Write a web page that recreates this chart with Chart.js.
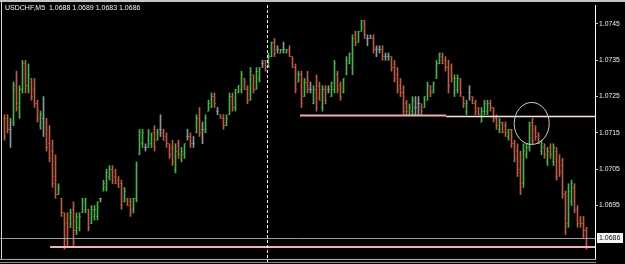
<!DOCTYPE html>
<html><head><meta charset="utf-8">
<script src="https://cdn.jsdelivr.net/npm/chart.js@4/dist/chart.umd.min.js"></script>
<style>html,body{margin:0;padding:0;background:#000;overflow:hidden}#wrap{width:625px;height:264px;position:relative}canvas{display:block}</style>
</head><body><div id="wrap"><canvas id="c" width="625" height="264"></canvas></div>
<script>
const titleText = 'USDCHF,M5  1.0688 1.0689 1.0683 1.0686';
const opens = [
1.0719,1.0719,1.0716,1.0718,1.0728,1.0722,1.0727,1.0734,1.0728,1.0730,
1.0727,1.0723,1.0717,1.0719,1.0718,1.0712,1.0710,1.0703,1.0698,1.0697,
1.0693,1.0690,1.0689,1.0694,1.0688,1.0689,1.0693,1.0694,1.0694,1.0690,
1.0692,1.0692,1.0697,1.0699,1.0700,1.0703,1.0705,1.0703,1.0702,1.0701,
1.0696,1.0697,1.0696,1.0694,1.0697,1.0709,1.0712,1.0711,1.0711,1.0712,
1.0716,1.0713,1.0716,1.0715,1.0714,1.0712,1.0711,1.0705,1.0712,1.0708,
1.0709,1.0714,1.0714,1.0712,1.0715,1.0719,1.0716,1.0716,1.0721,1.0722,
1.0725,1.0721,1.0720,1.0719,1.0717,1.0720,1.0725,1.0722,1.0726,1.0727,
1.0730,1.0727,1.0724,1.0731,1.0727,1.0730,1.0734,1.0735,1.0733,1.0736,
1.0740,1.0738,1.0737,1.0738,1.0737,1.0738,1.0736,1.0733,1.0729,1.0731,
1.0725,1.0729,1.0727,1.0723,1.0727,1.0728,1.0722,1.0727,1.0727,1.0725,
1.0727,1.0731,1.0728,1.0726,1.0731,1.0734,1.0733,1.0742,1.0740,1.0743,
1.0746,1.0741,1.0741,1.0741,1.0738,1.0738,1.0738,1.0736,1.0736,1.0736,
1.0733,1.0731,1.0728,1.0726,1.0723,1.0720,1.0721,1.0722,1.0723,1.0723,
1.0722,1.0724,1.0728,1.0726,1.0730,1.0734,1.0736,1.0735,1.0733,1.0733,
1.0726,1.0727,1.0730,1.0725,1.0721,1.0726,1.0725,1.0723,1.0722,1.0718,
1.0721,1.0721,1.0723,1.0722,1.0719,1.0716,1.0718,1.0717,1.0714,1.0716,
1.0712,1.0710,1.0705,1.0701,1.0709,1.0711,1.0718,1.0716,1.0715,1.0710,
1.0711,1.0707,1.0711,1.0707,1.0710,1.0707,1.0706,1.0698,1.0690,1.0696,
1.0700,1.0694,1.0691,1.0690,1.0688];
const highs = [
1.0720,1.0720,1.0719,1.0729,1.0732,1.0728,1.0735,1.0735,1.0734,1.0730,
1.0730,1.0724,1.0721,1.0725,1.0719,1.0717,1.0713,1.0709,1.0701,1.0697,
1.0693,1.0693,1.0694,1.0696,1.0693,1.0693,1.0697,1.0697,1.0694,1.0695,
1.0695,1.0696,1.0697,1.0702,1.0705,1.0706,1.0706,1.0705,1.0703,1.0702,
1.0700,1.0697,1.0697,1.0697,1.0707,1.0716,1.0716,1.0712,1.0716,1.0715,
1.0717,1.0716,1.0720,1.0716,1.0715,1.0712,1.0713,1.0712,1.0713,1.0711,
1.0712,1.0716,1.0715,1.0714,1.0720,1.0722,1.0718,1.0720,1.0724,1.0726,
1.0726,1.0722,1.0720,1.0720,1.0720,1.0726,1.0726,1.0727,1.0728,1.0732,
1.0730,1.0728,1.0733,1.0731,1.0733,1.0733,1.0735,1.0735,1.0737,1.0740,
1.0741,1.0739,1.0738,1.0740,1.0738,1.0739,1.0736,1.0734,1.0732,1.0732,
1.0730,1.0732,1.0729,1.0728,1.0731,1.0729,1.0728,1.0728,1.0728,1.0729,
1.0735,1.0732,1.0729,1.0730,1.0736,1.0737,1.0742,1.0743,1.0743,1.0746,
1.0746,1.0742,1.0742,1.0742,1.0739,1.0739,1.0739,1.0737,1.0737,1.0736,
1.0735,1.0733,1.0730,1.0728,1.0724,1.0723,1.0725,1.0725,1.0725,1.0723,
1.0725,1.0729,1.0728,1.0729,1.0735,1.0737,1.0737,1.0736,1.0735,1.0734,
1.0731,1.0731,1.0730,1.0725,1.0724,1.0728,1.0725,1.0724,1.0722,1.0722,
1.0724,1.0724,1.0724,1.0722,1.0720,1.0719,1.0718,1.0718,1.0716,1.0716,
1.0713,1.0712,1.0710,1.0712,1.0712,1.0718,1.0719,1.0717,1.0715,1.0713,
1.0712,1.0711,1.0712,1.0712,1.0711,1.0709,1.0708,1.0699,1.0701,1.0702,
1.0701,1.0695,1.0692,1.0692,1.0689];
const lows = [
1.0713,1.0715,1.0711,1.0717,1.0721,1.0719,1.0726,1.0726,1.0726,1.0724,
1.0722,1.0718,1.0716,1.0714,1.0710,1.0707,1.0700,1.0697,1.0698,1.0692,
1.0683,1.0684,1.0689,1.0684,1.0687,1.0688,1.0693,1.0693,1.0688,1.0690,
1.0691,1.0691,1.0696,1.0699,1.0699,1.0702,1.0701,1.0701,1.0700,1.0694,
1.0696,1.0695,1.0692,1.0693,1.0696,1.0709,1.0711,1.0710,1.0711,1.0711,
1.0710,1.0713,1.0714,1.0713,1.0711,1.0708,1.0706,1.0704,1.0708,1.0707,
1.0708,1.0713,1.0711,1.0711,1.0715,1.0714,1.0712,1.0715,1.0721,1.0722,
1.0722,1.0720,1.0719,1.0716,1.0717,1.0720,1.0721,1.0721,1.0726,1.0726,
1.0727,1.0723,1.0724,1.0726,1.0727,1.0729,1.0733,1.0732,1.0733,1.0736,
1.0736,1.0737,1.0737,1.0737,1.0737,1.0736,1.0733,1.0726,1.0729,1.0722,
1.0725,1.0726,1.0726,1.0723,1.0721,1.0724,1.0721,1.0723,1.0726,1.0725,
1.0726,1.0726,1.0724,1.0726,1.0731,1.0734,1.0731,1.0739,1.0740,1.0743,
1.0741,1.0739,1.0741,1.0737,1.0736,1.0737,1.0735,1.0735,1.0735,1.0732,
1.0729,1.0726,1.0725,1.0720,1.0720,1.0720,1.0720,1.0720,1.0720,1.0720,
1.0722,1.0724,1.0725,1.0726,1.0730,1.0734,1.0734,1.0732,1.0726,1.0729,
1.0725,1.0726,1.0725,1.0722,1.0720,1.0724,1.0723,1.0720,1.0720,1.0718,
1.0720,1.0720,1.0721,1.0718,1.0716,1.0715,1.0715,1.0714,1.0713,1.0711,
1.0707,1.0703,1.0698,1.0700,1.0708,1.0710,1.0712,1.0713,1.0712,1.0709,
1.0708,1.0706,1.0708,1.0706,1.0702,1.0703,1.0697,1.0687,1.0689,1.0695,
1.0693,1.0689,1.0689,1.0686,1.0683];
const closes = [
1.0714,1.0716,1.0716,1.0727,1.0723,1.0727,1.0734,1.0728,1.0731,1.0725,
1.0723,1.0719,1.0720,1.0719,1.0711,1.0708,1.0701,1.0698,1.0700,1.0693,
1.0686,1.0686,1.0693,1.0688,1.0692,1.0692,1.0696,1.0697,1.0689,1.0694,
1.0694,1.0696,1.0697,1.0701,1.0704,1.0705,1.0702,1.0701,1.0700,1.0695,
1.0699,1.0695,1.0693,1.0697,1.0706,1.0715,1.0715,1.0711,1.0715,1.0715,
1.0711,1.0715,1.0716,1.0713,1.0712,1.0709,1.0707,1.0710,1.0709,1.0710,
1.0712,1.0714,1.0712,1.0712,1.0719,1.0715,1.0716,1.0719,1.0723,1.0725,
1.0723,1.0721,1.0719,1.0717,1.0719,1.0725,1.0722,1.0727,1.0728,1.0731,
1.0727,1.0724,1.0732,1.0727,1.0732,1.0733,1.0734,1.0732,1.0736,1.0740,
1.0737,1.0738,1.0738,1.0738,1.0738,1.0736,1.0733,1.0727,1.0731,1.0723,
1.0729,1.0727,1.0727,1.0727,1.0722,1.0724,1.0727,1.0724,1.0727,1.0729,
1.0734,1.0727,1.0725,1.0730,1.0735,1.0737,1.0741,1.0740,1.0743,1.0746,
1.0742,1.0741,1.0741,1.0738,1.0738,1.0738,1.0736,1.0736,1.0736,1.0733,
1.0730,1.0727,1.0726,1.0721,1.0721,1.0722,1.0724,1.0722,1.0723,1.0721,
1.0725,1.0728,1.0726,1.0729,1.0734,1.0737,1.0734,1.0733,1.0728,1.0730,
1.0730,1.0730,1.0726,1.0723,1.0723,1.0726,1.0723,1.0721,1.0720,1.0721,
1.0723,1.0723,1.0722,1.0719,1.0717,1.0718,1.0715,1.0715,1.0716,1.0712,
1.0708,1.0704,1.0700,1.0710,1.0711,1.0717,1.0713,1.0714,1.0712,1.0712,
1.0709,1.0710,1.0709,1.0711,1.0703,1.0704,1.0698,1.0689,1.0699,1.0701,
1.0694,1.0690,1.0690,1.0688,1.0686];
const priceTicks = [1.0745, 1.0735, 1.0725, 1.0715, 1.0705, 1.0695];
const bidPrice = 1.0686;
const supportPrice = 1.06836;      // long pink trend line
const supportFromBar = 15.2;
const resistPrice = 1.07198;       // pink segment
const resistFromBar = 98.5, resistToBar = 147.2;
const resist2Price = 1.07195;      // pale continuation
const separatorBar = 87.67;        // day separator
const circleBar = 175.73, circlePrice = 1.07176;

const UP = '#4cae4c', DOWN = '#b95c47', FLAT = '#8c9898';
const barColor = i => closes[i] > opens[i] ? UP : (closes[i] < opens[i] ? DOWN : FLAT);

const overlay = {
  id: 'mt4overlay',
  beforeDraw(chart) {
    const c = chart.ctx; c.save(); c.fillStyle = '#000'; c.fillRect(0, 0, chart.width, chart.height); c.restore();
  },
  afterDatasetsDraw(chart) {
    const c = chart.ctx, xs = chart.scales.x, ys = chart.scales.y, a = chart.chartArea;
    c.save();
    // open / close ticks
    c.globalAlpha = 0.6;
    for (let i = 0; i < opens.length; i++) {
      const col = Math.floor(xs.getPixelForValue(i));
      c.fillStyle = barColor(i);
      c.fillRect(col - 1, Math.floor(ys.getPixelForValue(opens[i])), 1, 1);
      c.fillRect(col + 1, Math.floor(ys.getPixelForValue(closes[i])), 1, 1);
    }
    c.globalAlpha = 1;
    // bid line
    const yb = Math.floor(ys.getPixelForValue(bidPrice)) + 0.5;
    c.strokeStyle = '#9c9c9c'; c.lineWidth = 1;
    c.beginPath(); c.moveTo(0, yb); c.lineTo(a.right, yb); c.stroke();
    // horizontal segments
    const seg = (price, from, to, color, w) => {
      const y = ys.getPixelForValue(price);
      const x1 = from == null ? a.left : xs.getPixelForValue(from);
      const x2 = to == null ? a.right : xs.getPixelForValue(to);
      c.strokeStyle = color; c.lineWidth = w;
      c.beginPath(); c.moveTo(x1, y); c.lineTo(x2, y); c.stroke();
    };
    seg(supportPrice, supportFromBar, null, '#f3b3bd', 2);
    seg(resistPrice, resistFromBar, resistToBar, '#eeaab4', 2);
    seg(resist2Price, resistToBar, null, '#fbe2e4', 1.6);
    // separator
    const xsep = Math.floor(xs.getPixelForValue(separatorBar)) + 0.5;
    c.strokeStyle = '#ffffff'; c.lineWidth = 1; c.setLineDash([3, 2]);
    c.beginPath(); c.moveTo(xsep, a.top); c.lineTo(xsep, a.bottom + 3); c.stroke();
    c.setLineDash([]);
    // circle
    c.strokeStyle = '#cfcfcf'; c.lineWidth = 1;
    c.beginPath();
    c.ellipse(xs.getPixelForValue(circleBar), ys.getPixelForValue(circlePrice), 17.5, 21, 0, 0, Math.PI * 2);
    c.stroke();
    c.restore();
  },
  afterDraw(chart) {
    const c = chart.ctx, a = chart.chartArea, ys = chart.scales.y;
    c.save();
    // frame
    c.fillStyle = '#c4c4c4'; c.fillRect(0, 0, chart.width, 2);
    c.fillStyle = '#d8d8d8'; c.fillRect(1, 2, 1, a.bottom - 2);
    c.fillStyle = '#b4b4b4'; c.fillRect(0, a.bottom, a.right + 1, 1);
    c.fillStyle = '#9a9a9a'; c.fillRect(0, a.bottom + 3, a.right + 1, 1);
    // title
    c.font = '7px "Liberation Sans", Arial, sans-serif';
    c.fillStyle = '#f2f2f2'; c.textBaseline = 'middle'; c.textAlign = 'left';
    c.fillText(titleText, 5, 8.5);
    // bid label
    const yb = ys.getPixelForValue(bidPrice);
    c.fillStyle = '#f4f4f4'; c.fillRect(597, Math.round(yb) - 5, 26, 10);
    c.fillStyle = '#111'; c.textAlign = 'left';
    c.fillText(bidPrice.toFixed(4), 599, yb);
    c.restore();
  }
};

const barData = opens.map((_, i) => ({ x: i, y: [lows[i], highs[i]] }));

new Chart(document.getElementById('c').getContext('2d'), {
  type: 'bar',
  data: { datasets: [{
    data: barData,
    backgroundColor: opens.map((_, i) => barColor(i)),
    borderWidth: 0,
    barThickness: 1,
    grouped: false
  }]},
  options: {
    responsive: false, animation: false, devicePixelRatio: 1, events: [],
    layout: { padding: { left: 1, top: 3, right: 0, bottom: 5 } },
    plugins: { legend: { display: false }, tooltip: { enabled: false }, title: { display: false } },
    scales: {
      x: { type: 'linear', min: -1.1667, max: 196.8333, display: false, offset: false },
      y: {
        position: 'right', min: 1.06803, max: 1.07502,
        afterFit(s) { s.width = 30; },
        afterBuildTicks(s) { s.ticks = priceTicks.map(v => ({ value: v })); },
        ticks: { color: '#ececec', padding: 1, font: { family: 'Liberation Sans', size: 6.8 }, callback: v => Number(v).toFixed(4) },
        grid: { drawOnChartArea: false, tickLength: 3, color: '#cccccc', tickColor: '#cccccc' },
        border: { display: true, color: '#ffffff', width: 1 }
      }
    }
  },
  plugins: [overlay]
});
</script>
</body></html>
